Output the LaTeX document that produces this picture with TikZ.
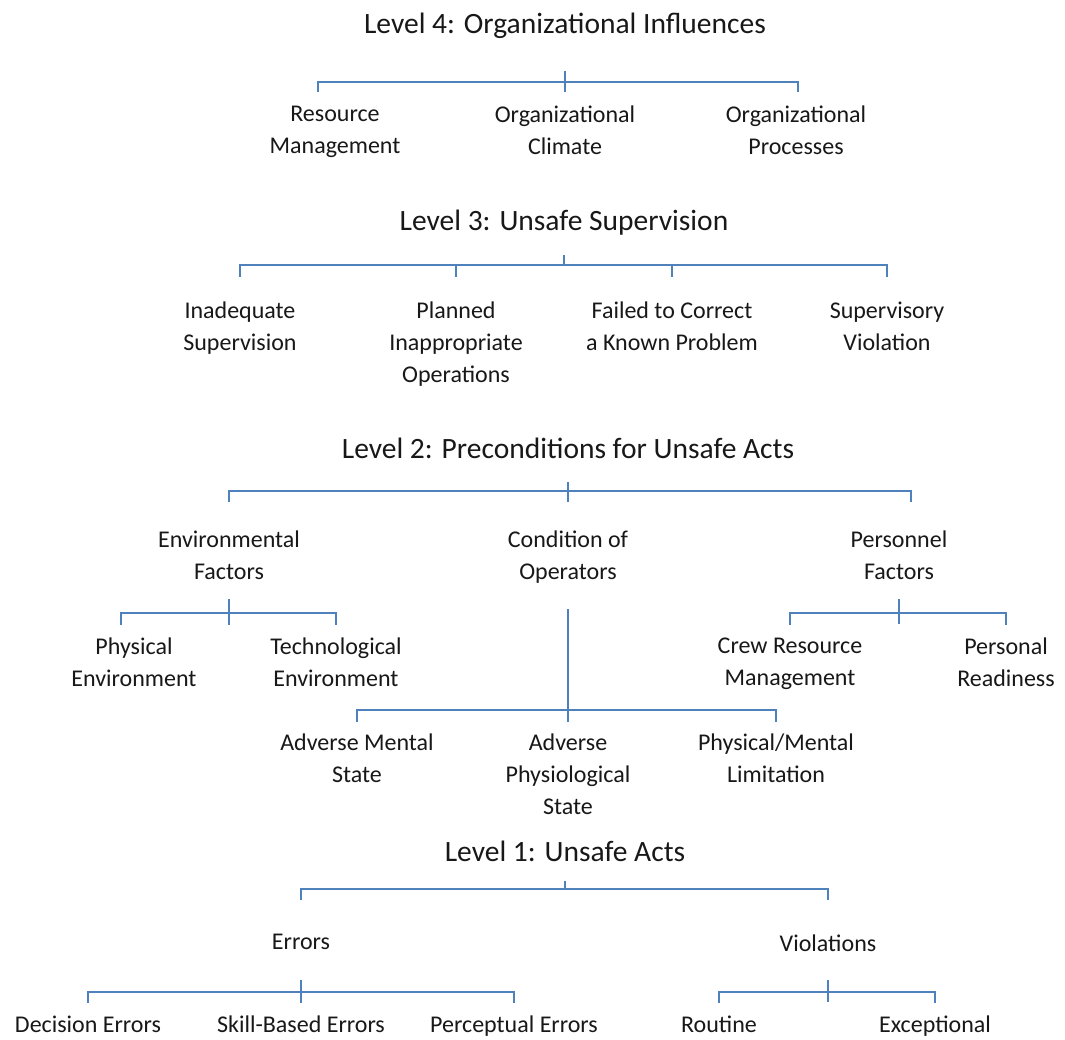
\documentclass[tikz,border=0pt]{standalone}
\usepackage{fontspec}
\setmainfont{Carlito}
\definecolor{linkblue}{RGB}{79,129,189}
\definecolor{inkgray}{RGB}{24,24,24}
\begin{document}
\begin{tikzpicture}[x=1pt,y=-1pt,
  heading/.style={font=\fontsize{29.5}{35}\selectfont, text=inkgray, inner sep=0pt, anchor=north,
    execute at begin node={\rule[-7pt]{0pt}{25pt}}},
  item/.style={font=\fontsize{24}{32}\selectfont, text=inkgray, align=center, inner sep=0pt, anchor=north,
    execute at begin node={\rule[-7pt]{0pt}{25pt}}, execute at end node={\rule[-7pt]{0pt}{25pt}}},
  conn/.style={draw=linkblue, line width=1.6pt},
]
\fill[white] (0,0) rectangle (1065,1039);
\useasboundingbox (0,0) rectangle (1065,1039);

% ---------- Level 4 ----------
\node[heading] (T4) at (565,13) {Level 4: Organizational Influences};
\node[item] (rm) at (335,106) {Resource\\Management};
\node[item] (oc) at (565,106) {Organizational\\Climate};
\node[item] (op) at (796,106) {Organizational\\Processes};
\coordinate (h4) at (565,82);
\draw[conn, shorten <=30pt] (T4.south) -- (h4);
\draw[conn, shorten >=14pt] (h4) -| ([xshift=-17pt]rm.north);
\draw[conn, shorten >=14pt] (h4) -| (oc.north);
\draw[conn, shorten >=14pt] (h4) -| ([xshift=2pt]op.north);

% ---------- Level 3 ----------
\node[heading] (T3) at (564,210) {Level 3: Unsafe Supervision};
\node[item] (is) at (240,302) {Inadequate\\Supervision};
\node[item] (pio) at (456,302) {Planned\\Inappropriate\\Operations};
\node[item] (fkp) at (672,302) {Failed to Correct\\a Known Problem};
\node[item] (sv) at (887,302) {Supervisory\\Violation};
\coordinate (h3) at (564,265);
\draw[conn, shorten <=17pt] (T3.south) -- (h3);
\foreach \k in {is,pio,fkp,sv}
  \draw[conn, shorten >=25pt] (h3) -| (\k.north);

% ---------- Level 2 ----------
\node[heading] (T2) at (568,438) {Level 2: Preconditions for Unsafe Acts};
\node[item] (ef) at (229,531) {Environmental\\Factors};
\node[item] (co) at (568,531) {Condition of\\Operators};
\node[item] (pf) at (899,531) {Personnel\\Factors};
\coordinate (h2) at (568,491);
\draw[conn, shorten <=16pt] (T2.south) -- (h2);
\draw[conn, shorten >=29pt] (h2) -| (ef.north);
\draw[conn, shorten >=29pt] (h2) -| (co.north);
\draw[conn, shorten >=29pt] (h2) -| ([xshift=12pt]pf.north);

% Environmental factors
\node[item] (pe) at (134,638) {Physical\\Environment};
\node[item] (te) at (336,638) {Technological\\Environment};
\coordinate (he) at (229,613);
\draw[conn, shorten <=12pt, shorten >=-12pt] (ef.south) -- (he);
\draw[conn, shorten >=13pt] (he) -| ([xshift=-13pt]pe.north);
\draw[conn, shorten >=13pt] (he) -| (te.north);

% Personnel factors
\node[item] (crm) at (790,638) {Crew Resource\\Management};
\node[item] (pr) at (1006,638) {Personal\\Readiness};
\coordinate (hp) at (899,613);
\draw[conn, shorten <=12pt, shorten >=-11pt] (pf.south) -- (hp);
\draw[conn, shorten >=13pt] (hp) -| (crm.north);
\draw[conn, shorten >=13pt] (hp) -| (pr.north);

% Condition of operators
\node[item] (ams) at (357,734) {Adverse Mental\\State};
\node[item] (aps) at (568,734) {Adverse\\Physiological\\State};
\node[item] (pml) at (776,734) {Physical/Mental\\Limitation};
\coordinate (hc) at (568,710);
\draw[conn, shorten <=22pt] (co.south) -- (hc);
\foreach \k in {ams,aps,pml}
  \draw[conn, shorten >=12pt] (hc) -| (\k.north);

% ---------- Level 1 ----------
\node[heading] (T1) at (565,841) {Level 1: Unsafe Acts};
\node[item] (er) at (301,931) {Errors};
\node[item] (vi) at (828,933) {Violations};
\coordinate (h1) at (565,889);
\draw[conn, shorten <=12pt] (T1.south) -- (h1);
\draw[conn, shorten >=31pt] (h1) -| (er.north);
\draw[conn, shorten >=33pt] (h1) -| (vi.north);

% Errors
\node[item] (de) at (88,1014) {Decision Errors};
\node[item] (sbe) at (301,1014) {Skill-Based Errors};
\node[item] (pce) at (514,1014) {Perceptual Errors};
\coordinate (hr) at (301,992);
\draw[conn, shorten <=24pt] (er.south) -- (hr);
\foreach \k in {de,sbe,pce}
  \draw[conn, shorten >=11pt] (hr) -| (\k.north);

% Violations
\node[item] (ro) at (719,1014) {Routine};
\node[item] (ex) at (935,1014) {Exceptional};
\coordinate (hv) at (828,992);
\draw[conn, shorten <=22pt, shorten >=-10pt] (vi.south) -- (hv);
\foreach \k in {ro,ex}
  \draw[conn, shorten >=11pt] (hv) -| (\k.north);
\end{tikzpicture}
\end{document}
